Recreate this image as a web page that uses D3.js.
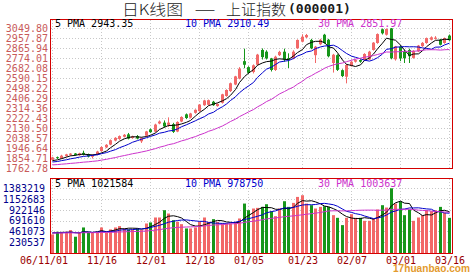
<!DOCTYPE html>
<html>
<head>
<meta charset="utf-8">
<script src="https://cdn.jsdelivr.net/npm/d3@7"></script>
<style>
  html, body { margin: 0; padding: 0; background: #fff; }
  svg { display: block; }
</style>
</head>
<body>
<svg id="chart" width="472" height="273"></svg>
<script>
// Trading sessions shown (2006-11-01 .. 2007-03-16)
const sessions = [
  "11/01","11/02","11/03","11/06","11/07","11/08","11/09","11/10","11/13","11/14","11/15","11/16","11/17","11/20","11/21","11/22","11/23","11/24","11/27","11/28","11/29","11/30",
  "12/01","12/04","12/05","12/06","12/07","12/08","12/11","12/12","12/13","12/14","12/15","12/18","12/19","12/20","12/21","12/22","12/25","12/26","12/27","12/28","12/29",
  "01/04","01/05","01/08","01/09","01/10","01/11","01/12","01/15","01/16","01/17","01/18","01/19","01/22","01/23","01/24","01/25","01/26","01/29","01/30","01/31",
  "02/01","02/02","02/05","02/06","02/07","02/08","02/09","02/12","02/13","02/14","02/15","02/16","02/26","02/27","02/28",
  "03/01","03/02","03/05","03/06","03/07","03/08","03/09","03/12","03/13","03/14","03/15","03/16"
];

const openPx = [
  1838,1862,1851,1872,1884,1896,1880,1902,1889,1866,1884,1918,1952,1978,2015,2030,2050,2072,2038,2056,2008,2060,
  2118,2097,2172,2180,2160,2166,2098,2190,2256,2226,2270,2286,2340,2344,2372,2332,2362,2425,2470,2530,2585,
  2745,2690,2645,2712,2848,2832,2770,2664,2800,2832,2772,2770,2863,2924,2964,2940,2800,2900,2988,2942,
  2728,2800,2662,2602,2700,2740,2755,2756,2760,2848,2912,3038,2988,3046,2762,
  2877,2830,2848,2775,2835,2883,2912,2942,2950,2942,2912,2980
];
const highPx = [
  1866,1868,1884,1893,1899,1900,1903,1922,1895,1888,1921,1962,1982,2025,2046,2062,2075,2085,2060,2066,2044,2104,
  2126,2170,2200,2200,2228,2178,2192,2238,2264,2270,2302,2350,2390,2392,2380,2356,2445,2486,2548,2610,2690,
  2860,2698,2715,2812,2862,2845,2775,2795,2840,2860,2817,2845,2945,2992,2995,2950,2885,2950,2996,2950,
  2812,2808,2670,2718,2748,2762,2762,2818,2840,2920,3000,3045,3046,3049.80,2885,
  2890,2850,2860,2846,2894,2920,2962,2973,2975,2950,2962,2990
];
const lowPx = [
  1832,1846,1846,1866,1876,1876,1874,1878,1860,1850,1880,1912,1946,1972,2008,2022,2044,2026,2032,2026,1993,2052,
  2086,2090,2165,2135,2140,2085,2092,2184,2212,2218,2262,2280,2334,2338,2334,2326,2355,2418,2462,2524,2578,
  2680,2628,2632,2705,2760,2760,2650,2655,2792,2740,2682,2762,2858,2918,2958,2855,2728,2892,2905,2780,
  2640,2655,2598,2541,2695,2732,2730,2750,2755,2842,2905,2990,2980,2762,2750,
  2745,2728,2728,2768,2828,2876,2905,2936,2945,2890,2905,2932
];
const closePx = [
  1860,1853,1876,1888,1895,1883,1897,1886,1868,1882,1914,1955,1976,2018,2040,2056,2068,2034,2052,2034,2040,2099,
  2092,2162,2190,2145,2180,2095,2186,2232,2222,2264,2298,2346,2384,2386,2340,2352,2440,2480,2542,2605,2675.47,
  2712,2638,2707,2805,2782,2770,2664,2786,2830,2760,2757,2832,2940,2970,2985,2863,2878,2942,2912,2790,
  2804,2665,2608,2710,2740,2755,2740,2811,2832,2915,2994,3001,3040,2772,2881,
  2770.2,2772,2790,2840,2888,2913,2957.15,2964,2961,2896,2958,2937.75
];
const volume = [
  397000,454000,433000,454000,490000,348000,433000,546000,433000,433000,433000,546000,433000,504000,546000,575000,525000,504000,504000,525000,490000,631000,
  653000,759000,759000,915000,844000,702000,667000,617000,525000,525000,546000,667000,759000,667000,724000,667000,631000,631000,631000,667000,738000,
  1057000,915000,951000,965000,986000,1043000,894000,788000,951000,1107000,986000,1071000,1199000,1235000,1057000,1022000,951000,986000,1000000,986000,
  809000,752000,596000,752000,830000,752000,752000,688000,688000,738000,930000,1022000,972000,1383219,1057000,
  1107000,809000,930000,688000,759000,809000,915000,894000,915000,986000,859000,752000
];

// The 29 sessions before 11/01 only seed the moving averages
const priorClose = [
  1768,1775,1780,1781,1776,1782,1770,1762,1766,1772,1755,1752,1785,1790,1772,
  1789,1794,1802,1788,1807,1805,1799,1808,1809,1805,1818,1823,1815,1838
];
const priorVolume = [
  412000,385000,441000,468000,402000,376000,455000,430000,398000,421000,447000,389000,462000,478000,415000,
  403000,436000,452000,397000,426000,444000,418000,391000,437000,466000,429000,405000,448000,472000
];

const priceTicks = [3049.80,2957.87,2865.94,2774.01,2682.08,2590.15,2498.22,2406.29,2314.36,2222.43,2130.50,2038.57,1946.64,1854.71,1762.78];
const volumeTicks = [1383219,1152683,922146,691610,461073,230537];
const dateTicks = ["11/01","11/16","12/01","12/18","01/05","01/23","02/07","03/01","03/16"];
const dateTickText = ["06/11/01","11/16","12/01","12/18","01/05","01/23","02/07","03/01","03/16"];

const maPeriods = [5, 10, 30];
const maColors = ["#000000", "#0000cc", "#cc33cc"];
const volumeMaText = ["1021584", "978750", "1003637"];

const titleParts = ["日K线图", "——", "上证指数", "(000001)"];
const siteText = "17huanbao.com";

const UP = "#f26868", DOWN = "#16961a", FRAME = "#d40000", GRID = "#c8c8c8";
const MONO = "'DejaVu Sans Mono', 'Liberation Mono', monospace";
const CJK = "'Noto Sans CJK SC', sans-serif";

const N = sessions.length;
const svg = d3.select("#chart");

const x = d3.scaleBand().domain(d3.range(N)).range([50, 451]);
const cx = i => Math.round(x(i) + x.bandwidth() / 2);
const y = d3.scaleLinear().domain([priceTicks[priceTicks.length - 1], priceTicks[0]]).range([168, 28]);
const yv = d3.scaleLinear().domain([0, volumeTicks[0]]).range([253, 188.3]);

function movingAverage(values, prior, n) {
  const all = prior.concat(values);
  return values.map((_, i) => {
    const end = i + prior.length + 1;
    return d3.mean(all.slice(end - n, end));
  });
}

const tickIndex = dateTicks.map(d => sessions.indexOf(d));

// ---- title ----
const titleLayout = [
  { x: 122, w: 61, y: 14.5, font: CJK, size: 15, weight: 300 },
  { x: 195, w: 20, y: 14.5, font: CJK, size: 15, weight: 300 },
  { x: 226, w: 60, y: 14.5, font: CJK, size: 15, weight: 300 },
  { x: 288, w: 63, y: 13, font: MONO, size: 13, weight: "bold" }
];
titleParts.forEach((t, k) => {
  const s = titleLayout[k];
  svg.append("text")
    .attr("x", s.x).attr("y", s.y)
    .attr("font-family", s.font).attr("font-size", s.size).attr("font-weight", s.weight)
    .attr("textLength", s.w).attr("lengthAdjust", "spacingAndGlyphs")
    .attr("fill", "#1a1a1a")
    .text(t);
});

// ---- grids ----
function hGrid(ticks, scale, y0, y1) {
  svg.append("g").selectAll("line").data(ticks).join("line")
    .attr("x1", 51).attr("x2", 452)
    .attr("y1", d => Math.round(scale(d)) + 0.5)
    .attr("y2", d => Math.round(scale(d)) + 0.5)
    .attr("stroke", GRID).attr("stroke-dasharray", "1,2");
  svg.append("g").selectAll("line").data(tickIndex).join("line")
    .attr("x1", i => cx(i) + 0.5).attr("x2", i => cx(i) + 0.5)
    .attr("y1", y0).attr("y2", y1)
    .attr("stroke", GRID).attr("stroke-dasharray", "1,2");
}
hGrid(priceTicks.slice(0, -1), y, 20, 168);
hGrid(volumeTicks, yv, 179, 253);

// ---- candles ----
const candles = svg.append("g");
d3.range(N).forEach(i => {
  const o = openPx[i], c = closePx[i];
  const col = c >= o ? UP : DOWN;
  candles.append("line")
    .attr("x1", cx(i) + 0.5).attr("x2", cx(i) + 0.5)
    .attr("y1", y(highPx[i])).attr("y2", y(lowPx[i]))
    .attr("stroke", col).attr("stroke-width", 1);
  const top = y(Math.max(o, c)), bot = y(Math.min(o, c));
  candles.append("rect")
    .attr("x", cx(i) - 1).attr("width", 3)
    .attr("y", top).attr("height", Math.max(1, bot - top))
    .attr("fill", col);
});

// ---- volume bars ----
svg.append("g").selectAll("rect").data(d3.range(N)).join("rect")
  .attr("x", i => cx(i) - 1).attr("width", 3)
  .attr("y", i => yv(volume[i]))
  .attr("height", i => yv(0) - yv(volume[i]))
  .attr("fill", i => closePx[i] >= openPx[i] ? UP : DOWN);

// ---- moving averages ----
const priceMA = maPeriods.map(n => movingAverage(closePx, priorClose, n));
const volumeMA = maPeriods.map(n => movingAverage(volume, priorVolume, n));
const line = scale => d3.line().x((d, i) => cx(i) + 0.5).y(d => scale(d));
priceMA.forEach((ma, k) => {
  svg.append("path").datum(ma).attr("d", line(y))
    .attr("fill", "none").attr("stroke", maColors[k]).attr("stroke-width", 1);
});
volumeMA.forEach((ma, k) => {
  svg.append("path").datum(ma).attr("d", line(yv))
    .attr("fill", "none").attr("stroke", maColors[k]).attr("stroke-width", 1);
});

// ---- panel frames ----
svg.append("rect").attr("x", 50.5).attr("y", 19.5).attr("width", 402).attr("height", 149)
  .attr("fill", "none").attr("stroke", FRAME);
svg.append("rect").attr("x", 50.5).attr("y", 178.5).attr("width", 402).attr("height", 75)
  .attr("fill", "none").attr("stroke", FRAME);

// ---- axes ----
function styleAxis(g, color) {
  g.select(".domain").remove();
  g.selectAll("line").remove();
  g.selectAll("text").attr("fill", color)
    .attr("font-family", MONO).attr("font-size", 10);
}
svg.append("g").attr("transform", "translate(50,0)")
  .call(d3.axisLeft(y).tickValues(priceTicks).tickFormat(d => d.toFixed(2)).tickSize(0).tickPadding(2))
  .call(g => styleAxis(g, "#c85a5a"));
svg.append("g").attr("transform", "translate(50,0)")
  .call(d3.axisLeft(yv).tickValues(volumeTicks).tickFormat(d3.format("d")).tickSize(0).tickPadding(5))
  .call(g => styleAxis(g, "#00008c"));
const xAxisG = svg.append("g").attr("transform", "translate(0,253)")
  .call(d3.axisBottom(d3.scaleLinear().domain([0, 1]).range([0, 1]))
    .tickValues(tickIndex.map(i => cx(i) + 0.5))
    .tickFormat((d, k) => dateTickText[k]).tickSize(0).tickPadding(4))
  .call(g => styleAxis(g, "#9a0000"));
xAxisG.selectAll("text").filter((d, k) => k === 0).attr("dx", -9);

// ---- moving-average legends ----
function legend(yPos, texts) {
  const xs = [55, 185, 318];
  texts.forEach((t, k) => {
    svg.append("text").attr("x", xs[k]).attr("y", yPos)
      .attr("font-family", MONO).attr("font-size", 10)
      .attr("fill", maColors[k]).text(t);
  });
}
legend(27, maPeriods.map((n, k) => `${n} PMA ${priceMA[k][N - 1].toFixed(2)}`));
legend(187, maPeriods.map((n, k) => `${n} PMA ${volumeMaText[k]}`));

// ---- site mark ----
svg.append("text").attr("x", 393).attr("y", 271.5)
  .attr("font-family", "'Liberation Sans', sans-serif").attr("font-size", 11)
  .attr("font-weight", "bold").attr("fill", "#e39a2e")
  .attr("textLength", 77).attr("lengthAdjust", "spacingAndGlyphs")
  .text(siteText);
</script>
</body>
</html>
